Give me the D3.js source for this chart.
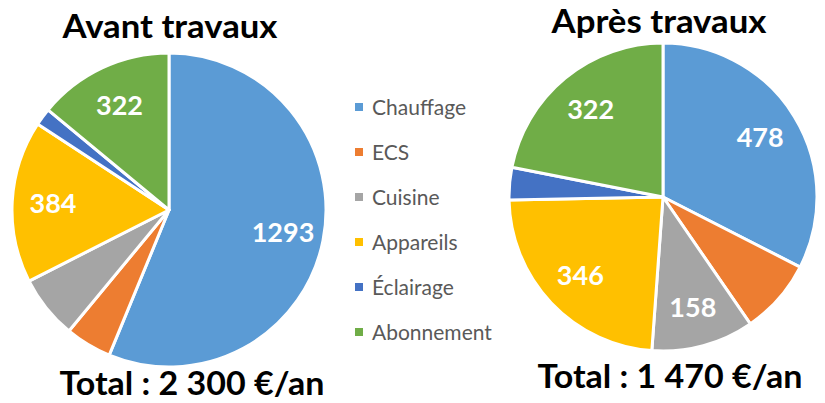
<!DOCTYPE html>
<html><head><meta charset="utf-8">
<script src="https://cdn.jsdelivr.net/npm/d3@7"></script>
<style>body{margin:0;background:#fff}svg{display:block}</style>
</head><body>
<svg id="c" width="825" height="403"></svg>
<script>
const categories = ["Chauffage","ECS","Cuisine","Appareils","Éclairage","Abonnement"];
const colors = ["#5B9BD5","#ED7D31","#A5A5A5","#FFC000","#4472C4","#70AD47"];
const valuesBefore = [1293,110,150,384,41,322];
const valuesAfter = [478,116,158,346,50,322];
const shownBefore = [true,false,false,true,false,true];
const shownAfter = [true,false,true,true,false,true];
const titles = ["Avant travaux","Après travaux"];
const totals = ["Total : 2 300 €/an","Total : 1 470 €/an"];

const svg = d3.select("#c");
const font = "Lato, 'Open Sans', sans-serif";

const charts = [
  {values: valuesBefore, shown: shownBefore, cx:169, cy:210, r:157, title:titles[0], total:totals[0], ty:38, tx:170, toty:395, totx:192},
  {values: valuesAfter, shown: shownAfter, cx:663, cy:197, r:154, title:titles[1], total:totals[1], ty:33, tx:659, toty:388, totx:670}
];

const pie = d3.pie().sort(null).value(d=>d);
charts.forEach(c=>{
  const g = svg.append("g").attr("transform",`translate(${c.cx},${c.cy})`);
  const arc = d3.arc().innerRadius(0).outerRadius(c.r);
  const labelArc = d3.arc().innerRadius(c.r*0.74).outerRadius(c.r*0.74);
  const arcs = pie(c.values);
  g.selectAll("path").data(arcs).join("path")
    .attr("d",arc).attr("fill",(d,i)=>colors[i])
    .attr("stroke","#fff").attr("stroke-width",3).attr("stroke-linejoin","round");
  g.selectAll("text").data(arcs.filter((d,i)=>c.shown[i])).join("text")
    .attr("transform",d=>`translate(${labelArc.centroid(d)})`)
    .attr("text-anchor","middle").attr("dy","0.36em")
    .attr("fill","#fff").attr("font-family",font).attr("font-weight","bold")
    .attr("font-size",27).text(d=>d.data);
  svg.append("text").attr("x",c.tx).attr("y",c.ty).attr("text-anchor","middle")
    .attr("font-family",font).attr("font-weight","bold").attr("font-size",32)
    .attr("textLength",215).attr("lengthAdjust","spacingAndGlyphs")
    .attr("fill","#000").text(c.title);
  svg.append("text").attr("x",c.totx).attr("y",c.toty).attr("text-anchor","middle")
    .attr("font-family",font).attr("font-weight","bold").attr("font-size",32)
    .attr("textLength",265).attr("lengthAdjust","spacingAndGlyphs")
    .attr("fill","#000").text(c.total);
});

const legend = svg.append("g");
const ly = d3.scalePoint().domain(categories).range([107,332]);
categories.forEach((cat,i)=>{
  legend.append("rect").attr("x",355).attr("y",ly(cat)-4).attr("width",8).attr("height",8).attr("fill",colors[i]);
  legend.append("text").attr("x",372).attr("y",ly(cat)).attr("dy","0.36em")
    .attr("font-family",font).attr("font-size",21).attr("fill","#595959").text(cat);
});
</script>
</body></html>
